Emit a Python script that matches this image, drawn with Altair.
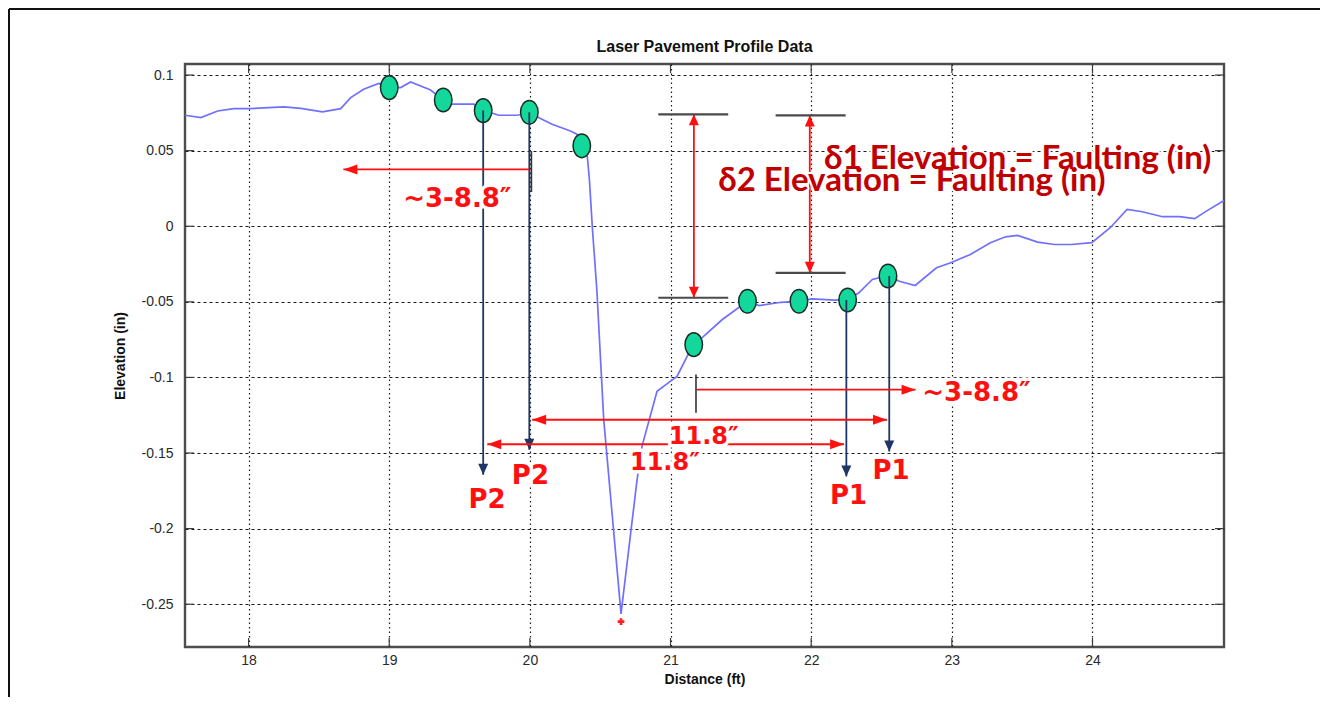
import altair as alt
import pandas as pd

# ---------------- data ----------------
chart_title = "Laser Pavement Profile Data"

profile_x = [17.548, 17.661, 17.780, 17.895, 18.009, 18.250, 18.371, 18.525, 18.655, 18.726,
             18.818, 18.925, 19.000, 19.081, 19.152, 19.294, 19.384, 19.448, 19.602, 19.668,
             19.779, 19.910, 19.995, 20.075, 20.158, 20.288, 20.359, 20.388, 20.409, 20.423,
             20.445, 20.476, 20.525, 20.648, 20.762, 20.797, 20.904, 20.998, 21.046, 21.128,
             21.165, 21.235, 21.368, 21.547, 21.630, 21.786, 21.914, 22.003, 22.170, 22.262,
             22.339, 22.435, 22.548, 22.627, 22.739, 22.891, 22.992, 23.131, 23.274, 23.382,
             23.467, 23.610, 23.730, 23.850, 23.995, 24.126, 24.246, 24.354, 24.498, 24.618,
             24.726, 24.810, 24.935]
profile_y = [0.0734, 0.0719, 0.0762, 0.0778, 0.0778, 0.0789, 0.0780, 0.0756, 0.0778, 0.0851,
             0.0906, 0.0944, 0.0917, 0.0917, 0.0954, 0.0901, 0.0835, 0.0807, 0.0807, 0.0767,
             0.0734, 0.0734, 0.0752, 0.0712, 0.0674, 0.0630, 0.0597, 0.0542, 0.0456, 0.0310,
             -0.0021, -0.0419, -0.1279, -0.2564, -0.1677, -0.1456, -0.1092, -0.1026, -0.0993, -0.0842,
             -0.0783, -0.0728, -0.0617, -0.0496, -0.0525, -0.0503, -0.0496, -0.0480, -0.0489, -0.0485,
             -0.0440, -0.0352, -0.0326, -0.0364, -0.0392, -0.0275, -0.0242, -0.0187, -0.0109, -0.0070,
             -0.0061, -0.0105, -0.0121, -0.0121, -0.0109, -0.0010, 0.0111, 0.0096, 0.0063, 0.0063,
             0.0050, 0.0100, 0.0170]

dot_x = [19.000, 19.384, 19.668, 19.996, 20.369, 21.165, 21.547, 21.913, 22.259, 22.546]
dot_y = [0.0917, 0.0835, 0.0765, 0.0754, 0.0532, -0.0783, -0.0496, -0.0496, -0.0488, -0.0329]

min_x = [20.648]
min_y = [-0.2615]

# navy drop arrows (P points)
drop_x = [19.668, 19.996, 22.250, 22.555]
drop_top = [0.0765, 0.0754, -0.0488, -0.0329]
drop_bottom = [-0.1644, -0.1478, -0.1655, -0.1490]

p_text = ["P2", "P2", "P1", "P1"]
p_x = [19.695, 20.004, 22.265, 22.568]
p_y = [-0.1810, -0.1650, -0.1787, -0.1622]

# red horizontal arrows: start, end, level, heads ("end" or "both")
hr_x1 = [19.995, 21.185, 20.016, 19.697]
hr_x2 = [18.674, 22.742, 22.539, 22.234]
hr_y = [0.0376, -0.1081, -0.1280, -0.1442]
hr_heads = ["end", "end", "both", "both"]

# red vertical (faulting) arrows
vr_x = [21.166, 21.990]
vr_top = [0.0740, 0.0733]
vr_bottom = [-0.0473, -0.0308]

# black reference bars
bar_x1 = [20.913, 20.913, 21.747, 21.747]
bar_x2 = [21.410, 21.410, 22.245, 22.245]
bar_y = [0.0740, -0.0473, 0.0733, -0.0308]

# black short vertical markers at arrow origins
mark_x = [20.011, 21.181]
mark_y1 = [0.0497, -0.0981]
mark_y2 = [0.0226, -0.1233]

range_text = ["~3-8.8\u2033", "~3-8.8\u2033"]
range_x = [19.484, 23.175]
range_y = [0.0177, -0.1100]

span_text = ["11.8\u2033", "11.8\u2033"]
span_x = [21.236, 20.960]
span_y = [-0.1395, -0.1565]

fault_text = ["\u03b41 Elevation = Faulting (in)", "\u03b42 Elevation = Faulting (in)"]
fault_x = [22.092, 21.339]
fault_y = [0.0442, 0.0299]

x_ticks = [18, 19, 20, 21, 22, 23, 24]
y_ticks = [-0.25, -0.2, -0.15, -0.1, -0.05, 0, 0.05, 0.1]

# ---------------- styling ----------------
W, H = 1039, 583
X_DOMAIN = [17.548, 24.935]
Y_DOMAIN = [-0.2783, 0.1073]
RED = "#ff1010"
DARKRED = "#c00000"
NAVY = "#1f3566"
BLUE = "#7070ff"
GRAY = "#3c3c3c"

xs = alt.Scale(domain=X_DOMAIN, nice=False, zero=False)
ys = alt.Scale(domain=Y_DOMAIN, nice=False, zero=False)

HEAD_DOWN = "M0,0 L-0.5,-1.1 L0.5,-1.1 Z"
HEAD_UP = "M0,0 L-0.5,1.1 L0.5,1.1 Z"
HEAD_LEFT = "M0,0 L1.4,-0.5 L1.4,0.5 Z"
HEAD_RIGHT = "M0,0 L-1.4,-0.5 L-1.4,0.5 Z"
ELLIPSE = "M-0.74,0 A0.74,1 0 1,1 0.74,0 A0.74,1 0 1,1 -0.74,0 Z"

x_axis = alt.Axis(values=x_ticks, grid=True, gridDash=[1.5, 3], gridColor="#1a1a1a", gridOpacity=1,
                  gridWidth=1.2, ticks=False, domain=False, labelFont="Liberation Sans",
                  labelFontSize=14, labelColor="#2a2a2a", labelPadding=6,
                  title="Distance (ft)", titleFont="Liberation Sans", titleFontSize=14,
                  titleFontWeight="bold", titleColor="#111", titleX=W / 2, titleY=32,
                  titleAlign="center", titleBaseline="middle")
y_axis = alt.Axis(values=y_ticks, grid=True, gridDash=[3, 3], gridColor="#1a1a1a", gridOpacity=1,
                  gridWidth=1.2, ticks=False, domain=False, labelFont="Liberation Sans",
                  labelFontSize=14, labelColor="#2a2a2a", labelPadding=12,
                  labelExpr="'' + datum.value",
                  title="Elevation (in)", titleFont="Liberation Sans", titleFontSize=14,
                  titleFontWeight="bold", titleColor="#111", titleX=-65, titleY=H / 2,
                  titleAngle=270, titleAlign="center", titleBaseline="middle")


def X(f):
    return alt.X(f, type="quantitative", scale=xs, axis=x_axis)


def Y(f):
    return alt.Y(f, type="quantitative", scale=ys, axis=y_axis)


# ---------------- tables ----------------
prof = pd.DataFrame({"x": profile_x, "y": profile_y, "i": range(len(profile_x))})
dots = pd.DataFrame({"x": dot_x, "y": dot_y})
mins = pd.DataFrame({"x": min_x, "y": min_y})
drops = pd.DataFrame({"x": drop_x, "y": drop_top, "y2": drop_bottom})
drop_heads = pd.DataFrame({"x": drop_x, "y": drop_bottom, "shape": HEAD_DOWN})
plab = pd.DataFrame({"t": p_text, "x": p_x, "y": p_y})
hr = pd.DataFrame({"x": hr_x1, "x2": hr_x2, "y": hr_y})
hh_rows = []
for a, b, yy, kind in zip(hr_x1, hr_x2, hr_y, hr_heads):
    hh_rows.append({"x": b, "y": yy, "shape": HEAD_LEFT if b < a else HEAD_RIGHT})
    if kind == "both":
        hh_rows.append({"x": a, "y": yy, "shape": HEAD_LEFT if a < b else HEAD_RIGHT})
for xx, t, b in zip(vr_x, vr_top, vr_bottom):
    hh_rows.append({"x": xx, "y": t, "shape": HEAD_UP})
    hh_rows.append({"x": xx, "y": b, "shape": HEAD_DOWN})
heads = pd.DataFrame(hh_rows)
vr = pd.DataFrame({"x": vr_x, "y": vr_top, "y2": vr_bottom})
bars = pd.DataFrame({"x": bar_x1, "x2": bar_x2, "y": bar_y})
marks = pd.DataFrame({"x": mark_x, "y": mark_y1, "y2": mark_y2})
rtxt = pd.DataFrame({"t": range_text, "x": range_x, "y": range_y})
stxt = pd.DataFrame({"t": span_text, "x": span_x, "y": span_y})
ftxt = pd.DataFrame({"t": fault_text, "x": fault_x, "y": fault_y})
xt = pd.DataFrame({"x": x_ticks})
yt = pd.DataFrame({"y": y_ticks})
one = pd.DataFrame({"a": [0]})
ttl = pd.DataFrame({"t": [chart_title]})

# ---------------- layers ----------------
line = alt.Chart(prof).mark_line(color=BLUE, strokeWidth=1.7, clip=True).encode(
    x=X("x"), y=Y("y"), order="i:Q")

tick_b = alt.Chart(xt).mark_rule(color=GRAY, strokeWidth=1.2).encode(
    x=X("x"), y=alt.value(H), y2=alt.value(H - 9))
tick_t = alt.Chart(xt).mark_rule(color=GRAY, strokeWidth=1.2).encode(
    x=X("x"), y=alt.value(0), y2=alt.value(9))
tick_l = alt.Chart(yt).mark_rule(color=GRAY, strokeWidth=1.2).encode(
    y=Y("y"), x=alt.value(0), x2=alt.value(9))
tick_r = alt.Chart(yt).mark_rule(color=GRAY, strokeWidth=1.2).encode(
    y=Y("y"), x=alt.value(W), x2=alt.value(W - 9))

star = alt.Chart(mins).mark_point(shape="cross", filled=True, color="#ff2020", size=45, opacity=1).encode(
    x=X("x"), y=Y("y"))

dot_layer = alt.Chart(dots).mark_point(shape=ELLIPSE, filled=True, fill="#12d99b", stroke="#1d2b27",
                                       strokeWidth=1.5, size=560, opacity=1).encode(x=X("x"), y=Y("y"))

drop_lines = alt.Chart(drops).mark_rule(color=NAVY, strokeWidth=1.8).encode(
    x=X("x"), y=Y("y"), y2="y2:Q")
drop_head_layer = alt.Chart(drop_heads).mark_point(filled=True, color=NAVY, size=400, opacity=1).encode(
    x=X("x"), y=Y("y"), shape=alt.Shape("shape:N", scale=None))

hr_lines = alt.Chart(hr).mark_rule(color=RED, strokeWidth=1.8).encode(x=X("x"), x2="x2:Q", y=Y("y"))
vr_lines = alt.Chart(vr).mark_rule(color=RED, strokeWidth=1.8).encode(x=X("x"), y=Y("y"), y2="y2:Q")
head_layer = alt.Chart(heads).mark_point(filled=True, color=RED, size=400, opacity=1).encode(
    x=X("x"), y=Y("y"), shape=alt.Shape("shape:N", scale=None))

bar_layer = alt.Chart(bars).mark_rule(color="#4a4a4a", strokeWidth=2.2).encode(
    x=X("x"), x2="x2:Q", y=Y("y"))
mark_layer = alt.Chart(marks).mark_rule(color="#333333", strokeWidth=1.6).encode(
    x=X("x"), y=Y("y"), y2="y2:Q")


def text_pair(df, font, size, color, align="center", halo=7):
    enc = dict(x=X("x"), y=Y("y"), text="t:N")
    back = alt.Chart(df).mark_text(font=font, fontWeight="bold", fontSize=size, align=align,
                                   baseline="middle", color="white", stroke="white",
                                   strokeWidth=halo, strokeJoin="round").encode(**enc)
    front = alt.Chart(df).mark_text(font=font, fontWeight="bold", fontSize=size, align=align,
                                    baseline="middle", color=color).encode(**enc)
    return [back, front]


title_layer = alt.Chart(ttl).mark_text(font="Liberation Sans", fontWeight="bold", fontSize=16,
                                       color="#111", align="center", baseline="middle").encode(
    x=alt.value(W / 2), y=alt.value(-17), text="t:N")

frame_top = alt.Chart(one).mark_rule(color="#111", strokeWidth=2).encode(
    x=alt.value(-176), x2=alt.value(W + 96), y=alt.value(-55))
frame_left = alt.Chart(one).mark_rule(color="#111", strokeWidth=2).encode(
    x=alt.value(-176), y=alt.value(-55), y2=alt.value(H + 70))

layers = [line, tick_b, tick_t, tick_l, tick_r, star, dot_layer, drop_lines, drop_head_layer,
          hr_lines, vr_lines, head_layer, bar_layer, mark_layer]
layers += text_pair(rtxt, "DejaVu Sans", 26, RED)
layers += text_pair(stxt, "DejaVu Sans", 24, RED)
layers += text_pair(plab, "DejaVu Sans", 26, RED)
layers += text_pair(ftxt, "Lato", 33, DARKRED, align="left", halo=4)
layers += [title_layer, frame_top, frame_left]

chart = alt.layer(*layers).properties(
    width=W, height=H,
    padding={"left": 177, "top": 56, "right": 100, "bottom": 50},
    autosize=alt.AutoSizeParams(type="none"),
    background="white",
).configure_view(stroke="#4d4d4d", strokeWidth=2.4)

chart.save("out.html", embed_options={"renderer": "svg", "actions": False})
